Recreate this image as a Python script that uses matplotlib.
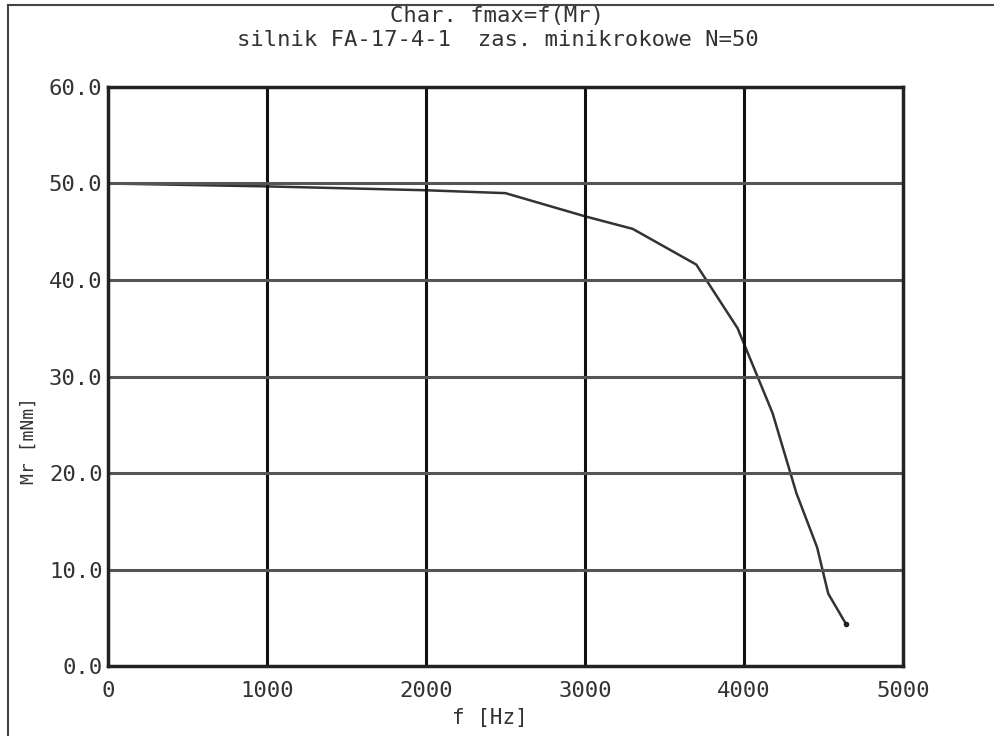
import matplotlib
matplotlib.use("Agg")
import matplotlib.pyplot as plt
from matplotlib.lines import Line2D

# f [Hz] vs Mr [mNm]
freq = [0, 1000, 2000, 2500, 3000, 3300, 3700, 3960, 4180, 4330, 4460, 4530, 4640]
torque = [50.0, 49.7, 49.3, 49.0, 46.6, 45.3, 41.6, 35.0, 26.2, 17.9, 12.3, 7.5, 4.4]

x_ticks = [0, 1000, 2000, 3000, 4000, 5000]
y_ticks = [0, 10, 20, 30, 40, 50, 60]
y_labels = ["%.1f" % v for v in y_ticks]

title1 = "Char. fmax=f(Mr)"
title2 = "silnik FA-17-4-1  zas. minikrokowe N=50"

plt.rcParams['font.family'] = ['DejaVu Sans Mono']

fig = plt.figure(figsize=(9.95, 7.36), dpi=100)
ax = fig.add_axes([0.1085, 0.0951, 0.799, 0.7867])

ax.plot(freq, torque, color='#333333', lw=1.8)
ax.plot(freq[-1], torque[-1], 'o', color='#222222', ms=3)

ax.set_xlim(0, 5000)
ax.set_ylim(0, 60)
ax.set_xticks(x_ticks)
ax.set_yticks(y_ticks)
ax.set_yticklabels(y_labels)
ax.tick_params(length=0, labelsize=16, colors='#333333')
ax.tick_params(axis='x', pad=11)
ax.tick_params(axis='y', pad=4)

for x in x_ticks[1:-1]:
    ax.axvline(x, color='#111111', lw=2.2)
for y in y_ticks[1:-1]:
    ax.axhline(y, color='#555555', lw=2.2)

for s in ax.spines.values():
    s.set_linewidth(2.5)
    s.set_color('#222222')

ax.set_xlabel("f [Hz]", fontsize=15, color='#333333', va='center')
ax.xaxis.set_label_coords(0.48, -0.09)
ax.set_ylabel("Mr [mNm]", fontsize=13, color='#333333', va='center')
ax.yaxis.set_label_coords(-0.1, 0.39)

fig.text(0.5, 0.978, title1, ha='center', va='center', fontsize=16, color='#333333')
fig.text(0.5, 0.946, title2, ha='center', va='center', fontsize=16, color='#333333')

# page frame (top and left edge)
fig.add_artist(Line2D([0.008, 1.0], [0.993, 0.993], transform=fig.transFigure, color='#444444', lw=1.5))
fig.add_artist(Line2D([0.008, 0.008], [0.0, 0.993], transform=fig.transFigure, color='#444444', lw=1.5))

fig.savefig("out.png", dpi=100)
